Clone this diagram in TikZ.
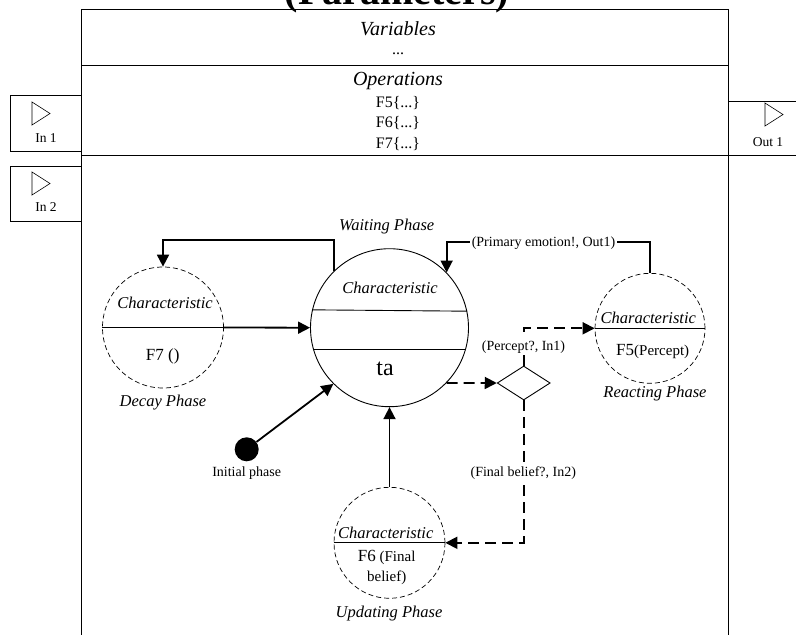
\documentclass[tikz,border=0pt]{standalone}
\usepackage{fontspec}
\setmainfont{Liberation Serif}
\usetikzlibrary{arrows.meta,shapes.geometric}
\begin{document}
\begin{tikzpicture}[x=1pt,y=-1pt,
  box/.style={draw, line width=0.9pt},
  port/.style={draw, line width=0.6pt},
  lbl/.style={inner sep=1pt, font=\fontsize{14}{16}\selectfont},
  plbl/.style={inner sep=1pt, font=\fontsize{13.5}{16}\selectfont},
  hdr/.style={inner sep=0pt, font=\itshape\fontsize{20}{24}\selectfont},
  ops/.style={inner sep=0pt, font=\fontsize{16}{18}\selectfont},
  chr/.style={inner sep=0pt, font=\itshape\fontsize{16.5}{19}\selectfont},
  fn/.style={inner sep=0pt, font=\fontsize{17}{20}\selectfont},
  phase/.style={circle, draw, inner sep=0pt, line width=0.7pt, dash pattern=on 5pt off 3pt},
  mainc/.style={circle, draw, inner sep=0pt, line width=0.9pt},
  chord/.style={draw, line width=0.9pt},
  conn/.style={draw, line width=1.8pt, -{Triangle[length=12pt,width=12pt]}},
  dconn/.style={conn, dash pattern=on 11pt off 6pt},
  wlbl/.style={lbl, fill=white, inner sep=2pt}
]
\useasboundingbox (0,0) rectangle (796,635);
\clip (0,0) rectangle (796,635);

% title (cut off at top, as in the reference)
\node[anchor=base, inner sep=0pt, font=\bfseries\fontsize{40}{40}\selectfont] (title) at (397,4) {(Parameters)};

% main block
\draw[box] (81,9) rectangle (728,650);
\draw[box] (81,65) -- (728,65);
\draw[box] (81,155.5) -- (800,155.5);

% ports
\draw[box] (10.5,95) rectangle (81,151);
\draw[box] (10.5,166) rectangle (81,221);
\draw[box] (728,101) -- (800,101);
\draw[port] (32,102) -- (50,113.5) -- (32,125) -- cycle;
\draw[port] (32,172) -- (50,183.5) -- (32,195) -- cycle;
\draw[port] (765,103) -- (783,114.5) -- (765,126) -- cycle;
\node[plbl] (in1) at (46,138) {In 1};
\node[plbl] (in2) at (46,207.5) {In 2};
\node[plbl] (out1) at (768,142) {Out 1};

% header texts
\node[hdr] (vars) at (398,28.5) {Variables};
\node[ops, anchor=base] (vdots) at (398,54) {...};
\node[hdr] (opers) at (398,81) {Operations};
\node[ops] (f5) at (398,103) {F5\{...\}};
\node[ops] (f6) at (398,123.5) {F6\{...\}};
\node[ops] (f7) at (398,144) {F7\{...\}};

% states
\node[phase, minimum size=121pt] (decay) at (163,327.5) {};
\node[mainc, minimum size=158pt] (wait) at (389.5,327.7) {};
\node[phase, minimum size=110pt] (react) at (650,328.3) {};
\node[phase, minimum size=111pt] (upd) at (389.5,542.8) {};
\node[diamond, draw, line width=0.9pt, inner sep=0pt, minimum width=53pt, minimum height=34pt] (dia) at (523.7,383) {};
\node[circle, fill, inner sep=0pt, minimum size=24pt] (init) at (246.7,449.3) {};

% chords
\draw[chord] (wait.167.1) -- (wait.12.9);
\draw[chord] (wait.196.4) -- (wait.-16.4);
\draw[chord] (decay.west) -- (decay.east);
\draw[chord] (react.west) -- (react.east);
\draw[chord] (upd.west) -- (upd.east);

% texts in states
\node[chr] (wname) at (386.7,226.7) {Waiting Phase};
\node[chr] (wchr) at (390,288) {Characteristic};
\node[inner sep=0pt, font=\fontsize{24}{26}\selectfont] (wta) at (385,369) {ta};

\node[chr] (dchr) at (165,302.7) {Characteristic};
\node[fn] (dfn) at (162.7,356) {F7 ()};
\node[chr] (dname) at (163,403) {Decay Phase};

\node[chr] (rchr) at (648.3,318.3) {Characteristic};
\node[inner sep=0pt, font=\fontsize{15}{18}\selectfont] (rfn) at (652.7,351.7) {{\fontsize{17}{20}\selectfont F5}(Percept)};
\node[chr] (rname) at (655,394) {Reacting Phase};

\node[chr] (uchr) at (385.7,533.3) {Characteristic};
\node[inner sep=0pt, align=center, font=\fontsize{15}{20}\selectfont] (ufn) at (386.7,567.5) {{\fontsize{17}{20}\selectfont F6} (Final\\belief)};
\node[chr] (uname) at (389,613.3) {Updating Phase};

\node[lbl] (iname) at (246.7,472.7) {Initial phase};

% connectors
\draw[conn] (decay.east) -- (wait.west);
\draw[conn] (wait.134.6) -- ++(0,-30.8) -| (decay.north);
\draw[conn] (react.north) -- ++(0,-30.6) -| (wait.44.3);
\node[wlbl] (pe) at (543.5,242.7) {(Primary emotion!, Out1)};
\draw[conn] (init) -- (wait.225.6);
\draw[conn] (upd.north) -- (wait.south);
\draw[dconn] (wait.-44.6) -- (dia.west);
\draw[dconn] (dia.north) |- (react.west);
\node[wlbl] (perc) at (523.5,346.7) {(Percept?, In1)};
\draw[dconn] (dia.south) |- (upd.east);
\node[wlbl] (fb) at (523.3,473.3) {(Final belief?, In2)};
\end{tikzpicture}
\end{document}
